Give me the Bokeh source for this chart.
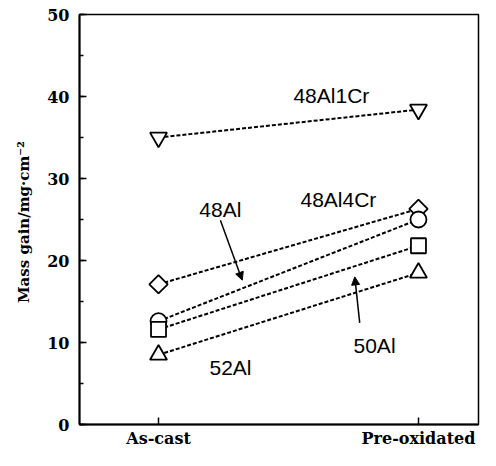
import math
from bokeh.plotting import figure
from bokeh.models import SingleIntervalTicker, FixedTicker, Arrow, NormalHead, Label
from bokeh.embed import file_html
from bokeh.resources import INLINE

categories = ["As-cast", "Pre-oxidated"]
al48cr1 = [35.0, 38.4]
al48cr4 = [17.1, 26.3]
al48 = [12.6, 25.0]
al50 = [11.6, 21.8]
al52 = [8.5, 18.5]

xs = list(range(len(categories)))

p = figure(width=480, height=450, output_backend="svg", toolbar_location=None,
           x_range=(-0.304, 1.231), y_range=(0, 50),
           min_border_left=79, min_border_right=2, min_border_top=14, min_border_bottom=23)
p.xgrid.visible = False
p.ygrid.visible = False
p.outline_line_color = "black"
p.outline_line_width = 1.5
p.background_fill_color = "white"
p.border_fill_color = "white"

for ax in (p.xaxis[0], p.yaxis[0]):
    ax.axis_line_width = 2
    ax.axis_line_color = "black"
    ax.major_tick_in = 7
    ax.major_tick_out = 0
    ax.major_tick_line_width = 1.5
    ax.minor_tick_in = 4
    ax.minor_tick_out = 0
    ax.minor_tick_line_width = 1.5
    ax.major_label_text_font = "DejaVu Serif"
    ax.major_label_text_font_style = "bold"
    ax.major_label_text_font_size = "16px"
    ax.major_label_text_color = "black"

p.yaxis.ticker = SingleIntervalTicker(interval=10, num_minor_ticks=2)
p.yaxis.major_label_standoff = 10
p.xaxis.ticker = FixedTicker(ticks=xs)
p.xaxis.major_label_overrides = {i: c for i, c in enumerate(categories)}
p.xaxis.major_label_standoff = 4
p.yaxis.axis_label = "Mass  gain/mg\u00b7cm\u207b\u00b2"
p.yaxis.axis_label_text_font = "DejaVu Serif"
p.yaxis.axis_label_text_font_style = "bold"
p.yaxis.axis_label_text_font_size = "15px"
p.yaxis.axis_label_text_color = "black"
p.yaxis.axis_label_standoff = 11

series = [
    (al48cr1, "inverted_triangle", 17, 0),
    (al48cr4, "square", 13, math.pi / 4),
    (al48, "circle", 16, 0),
    (al50, "square", 15, 0),
    (al52, "triangle", 17, 0),
]
for vals, mk, sz, ang in series:
    p.line(xs, vals, line_color="black", line_width=2, line_dash="4 2")
    p.scatter(xs, vals, marker=mk, size=sz, angle=ang, fill_color="white",
              line_color="black", line_width=1.8)

labels = [
    ("48Al1Cr", 0.665, 40.1),
    ("48Al4Cr", 0.692, 27.4),
    ("48Al", 0.238, 26.2),
    ("50Al", 0.831, 9.6),
    ("52Al", 0.277, 7.0),
]
for t, x, y in labels:
    p.add_layout(Label(x=x, y=y, text=t, text_font="Liberation Sans", text_font_size="21px",
                       text_align="center", text_baseline="middle", text_color="black"))

p.add_layout(Arrow(end=NormalHead(size=8, fill_color="black", line_color="black"),
                   x_start=0.238, y_start=24.9, x_end=0.322, y_end=17.6,
                   line_width=1.5, line_color="black"))
p.add_layout(Arrow(end=NormalHead(size=8, fill_color="black", line_color="black"),
                   x_start=0.774, y_start=12.4, x_end=0.755, y_end=18.0,
                   line_width=1.5, line_color="black"))

open("out.html", "w").write(file_html(p, INLINE))
